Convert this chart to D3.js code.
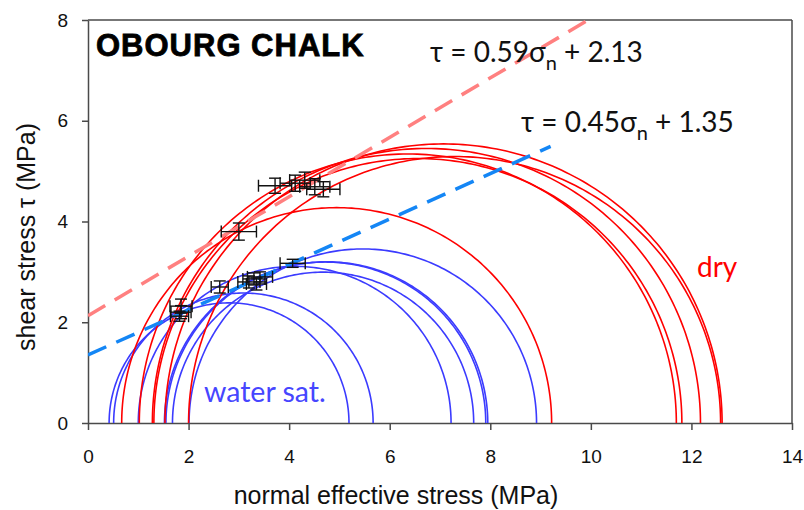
<!DOCTYPE html>
<html><head><meta charset="utf-8">
<script src="https://cdn.jsdelivr.net/npm/d3@7"></script>
<style>body{margin:0;background:#fff}svg{display:block}</style>
</head><body><svg id="c" width="804" height="510"></svg>
<script>
// Mohr circles: left (sigma3) and right (sigma1) endpoints
const dryLeft  = [0.67, 1.02, 1.31, 1.53, 1.28, 2.00];
const dryRight = [9.22, 11.70, 11.81, 12.61, 12.18, 12.58];
const wetLeft  = [0.42, 0.51, 1.00, 1.52, 1.55, 1.68, 2.01];
const wetRight = [5.19, 5.67, 7.22, 7.91, 7.95, 7.67, 8.92];
// failure points with error bars
const dryPtSigma = [1.85, 3.00, 3.72, 4.12, 4.31, 4.51, 4.68];
const dryPtTau   = [2.32, 3.80, 4.71, 4.76, 4.82, 4.69, 4.64];
const dryErrSigma = [0.22, 0.35, 0.33, 0.30, 0.30, 0.30, 0.33];
const dryErrTau   = [0.14, 0.17, 0.15, 0.16, 0.16, 0.16, 0.15];
const wetPtSigma = [1.85, 1.82, 2.62, 3.20, 3.30, 3.42, 3.35, 4.07];
const wetPtTau   = [2.20, 2.12, 2.70, 2.80, 2.86, 2.90, 2.76, 3.17];
const wetErrSigma = [0.20, 0.18, 0.17, 0.22, 0.22, 0.25, 0.20, 0.25];
const wetErrTau   = [0.13, 0.10, 0.12, 0.12, 0.12, 0.10, 0.12, 0.08];
// envelopes: tau = slope * sigma + intercept
const envSlope = [0.59, 0.45];
const envIntercept = [2.13, 1.35];
const envEnd = [10.0, 9.2];
const xTicks = [0, 2, 4, 6, 8, 10, 12, 14];
const yTicks = [0, 2, 4, 6, 8];

const svg = d3.select("#c");
const x = d3.scaleLinear().domain([0, 14]).range([88, 792]);
const y = d3.scaleLinear().domain([0, 8]).range([423, 20]);
const axisCol = "#4a4a4a";

svg.append("defs").append("clipPath").attr("id","clip")
  .append("rect").attr("x",88).attr("y",20).attr("width",704).attr("height",403);

// frame
svg.append("line").attr("x1",x(0)).attr("x2",x(14)).attr("y1",y(8)).attr("y2",y(8))
  .attr("stroke",axisCol).attr("stroke-width",1.5);
svg.append("line").attr("x1",x(14)).attr("x2",x(14)).attr("y1",y(8)).attr("y2",y(0))
  .attr("stroke",axisCol).attr("stroke-width",1.5);

const gx = svg.append("g").attr("transform",`translate(0,${y(0)})`)
  .call(d3.axisBottom(x).tickValues(xTicks).tickSize(7).tickPadding(20).tickSizeOuter(0));
const gy = svg.append("g").attr("transform",`translate(${x(0)},0)`)
  .call(d3.axisLeft(y).tickValues(yTicks).tickSize(6).tickPadding(14).tickSizeOuter(0));
[gx, gy].forEach(g => {
  g.select(".domain").attr("stroke",axisCol).attr("stroke-width",1.5);
  g.selectAll(".tick line").attr("stroke",axisCol).attr("stroke-width",1.5);
  g.selectAll(".tick text").attr("font-family","Liberation Sans, Arial, sans-serif")
    .attr("font-size",19).attr("fill","#111");
});

// semicircles
const angles = d3.range(0, 181, 1).map(d => d * Math.PI / 180);
const arcLine = d3.line().x(d => d[0]).y(d => d[1]);
function semi(L, R) {
  const c = (L + R) / 2, r = (R - L) / 2;
  return arcLine(angles.map(a => [x(c + r * Math.cos(a)), y(r * Math.sin(a))]));
}
const plot = svg.append("g").attr("clip-path","url(#clip)");
plot.selectAll(".wet").data(wetLeft.map((l,i)=>[l, wetRight[i]])).join("path")
  .attr("d", d => semi(d[0], d[1])).attr("fill","none").attr("stroke","#3b3bff").attr("stroke-width",1.6);
plot.selectAll(".dry").data(dryLeft.map((l,i)=>[l, dryRight[i]])).join("path")
  .attr("d", d => semi(d[0], d[1])).attr("fill","none").attr("stroke","#ff0000").attr("stroke-width",1.6);

// envelopes
const envCol = ["#ff8080", "#1486f5"];
envSlope.forEach((s, i) => {
  plot.append("line").attr("x1", x(0)).attr("y1", y(envIntercept[i]))
    .attr("x2", x(envEnd[i])).attr("y2", y(s * envEnd[i] + envIntercept[i]))
    .attr("stroke", envCol[i]).attr("stroke-width", 3.5)
    .attr("stroke-dasharray", "20,11");
});

// error bars
function errBars(sig, tau, es, et) {
  const g = svg.append("g").attr("stroke","#111").attr("stroke-width",1.4).attr("fill","none");
  sig.forEach((s, i) => {
    const cx = x(s), cy = y(tau[i]);
    const x0 = x(s - es[i]), x1 = x(s + es[i]);
    const y0 = y(tau[i] - et[i]), y1 = y(tau[i] + et[i]);
    g.append("line").attr("x1",x0).attr("x2",x1).attr("y1",cy).attr("y2",cy);
    g.append("line").attr("x1",x0).attr("x2",x0).attr("y1",cy-6).attr("y2",cy+6);
    g.append("line").attr("x1",x1).attr("x2",x1).attr("y1",cy-6).attr("y2",cy+6);
    g.append("line").attr("x1",cx).attr("x2",cx).attr("y1",y0).attr("y2",y1);
    g.append("line").attr("x1",cx-6).attr("x2",cx+6).attr("y1",y0).attr("y2",y0);
    g.append("line").attr("x1",cx-6).attr("x2",cx+6).attr("y1",y1).attr("y2",y1);
  });
}
errBars(wetPtSigma, wetPtTau, wetErrSigma, wetErrTau);
errBars(dryPtSigma, dryPtTau, dryErrSigma, dryErrTau);

// texts
svg.append("text").attr("x",96).attr("y",56).text("OBOURG CHALK")
  .attr("font-family","Liberation Sans, Arial, sans-serif").attr("font-weight","bold")
  .attr("font-size",31).attr("letter-spacing",1).attr("fill","#000")
  .attr("stroke","#000").attr("stroke-width",0.8);

const eqFont = "Lato, Carlito, Calibri, sans-serif";
function eq(px, py, a, b) {
  const t = svg.append("text").attr("x",px).attr("y",py).attr("font-family",eqFont)
    .attr("font-size",28).attr("fill","#111");
  t.append("tspan").text(`τ = ${a}σ`);
  t.append("tspan").attr("dy",8).attr("font-size",20).text("n");
  t.append("tspan").attr("dy",-8).text(` + ${b}`);
}
eq(430, 62, "0.59", "2.13");
eq(521, 132, "0.45", "1.35");

svg.append("text").attr("x",204).attr("y",402).text("water sat.")
  .attr("font-family",eqFont).attr("font-size",28.5).attr("fill","#4646ff");
svg.append("text").attr("x",697).attr("y",277).text("dry")
  .attr("font-family",eqFont).attr("font-size",28).attr("fill","#ff0000");

svg.append("text").attr("x",396).attr("y",504).attr("text-anchor","middle")
  .text("normal effective stress (MPa)")
  .attr("font-family","Liberation Sans, Arial, sans-serif").attr("font-size",25).attr("fill","#111");
svg.append("text").attr("transform","translate(35,237) rotate(-90)").attr("text-anchor","middle")
  .text("shear stress τ (MPa)")
  .attr("font-family","Liberation Sans, Arial, sans-serif").attr("font-size",25).attr("fill","#111");
</script></body></html>
